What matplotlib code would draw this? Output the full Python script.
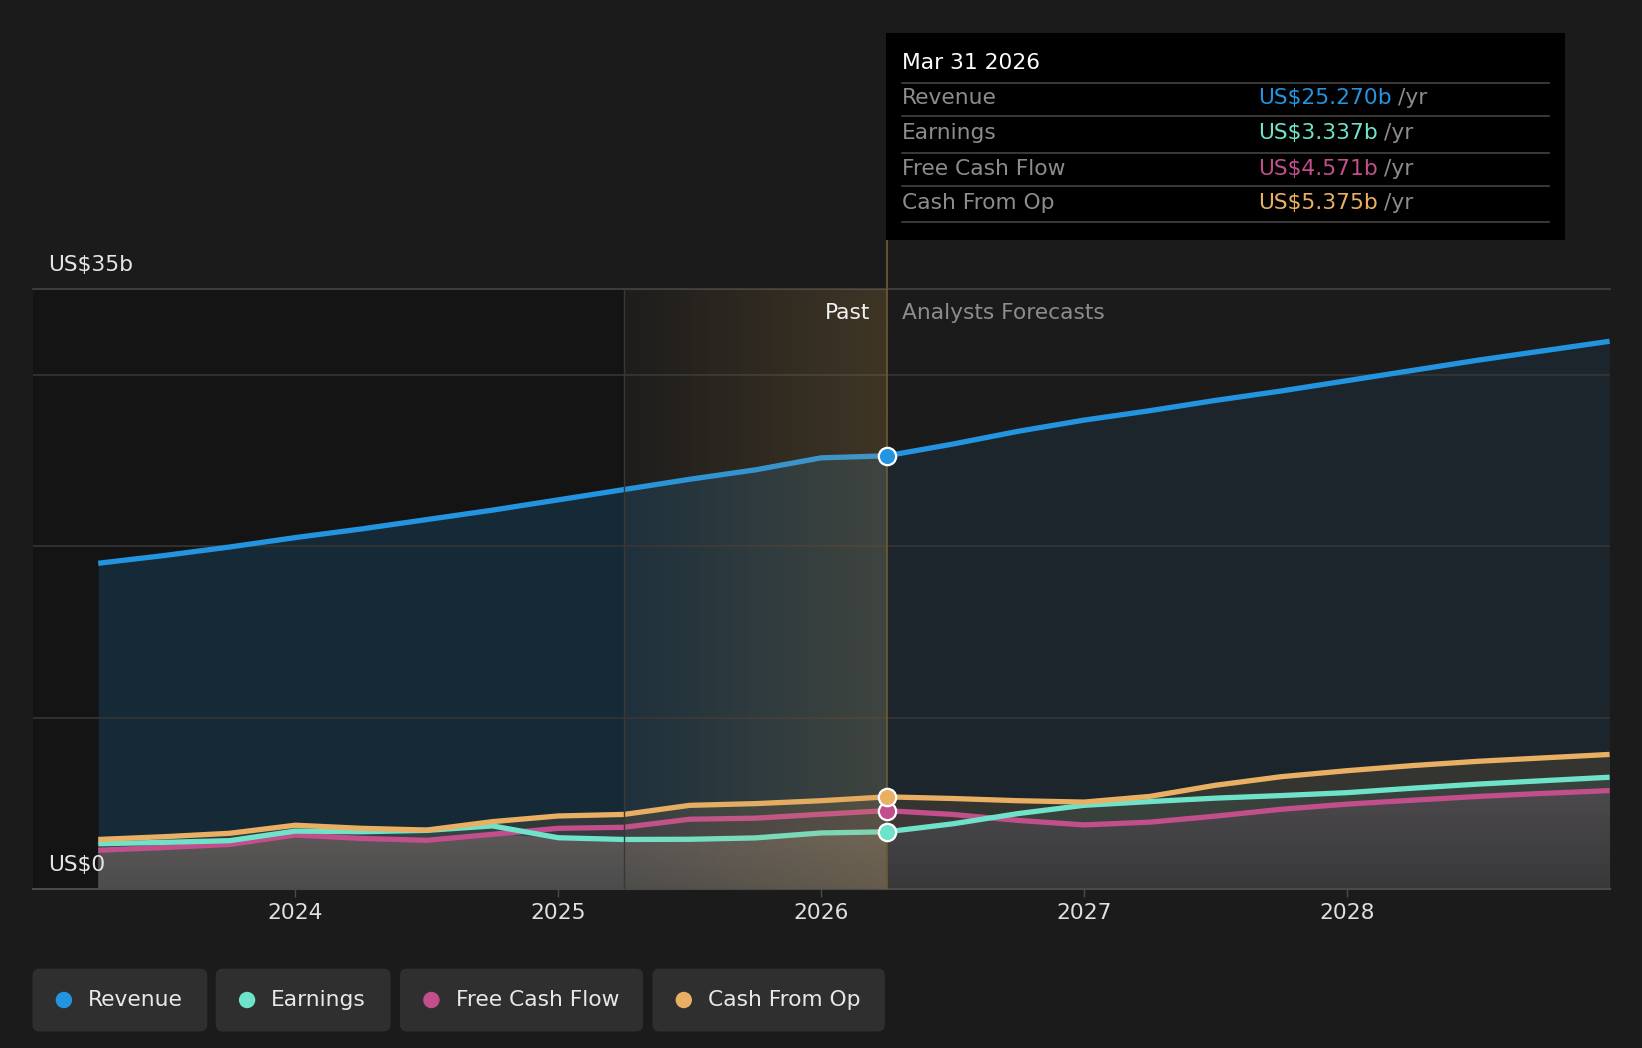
import numpy as np
import matplotlib.pyplot as plt
from matplotlib.patches import FancyBboxPatch, Rectangle, Circle

plt.rcParams['font.family'] = ['DejaVu Sans']

# quarterly points, decimal years (past up to Mar 2026, then analyst forecasts)
dates = [2023.25, 2023.5, 2023.75, 2024.0, 2024.25, 2024.5, 2024.75, 2025.0,
         2025.25, 2025.5, 2025.75, 2026.0, 2026.25,
         2026.5, 2026.75, 2027.0, 2027.25, 2027.5, 2027.75, 2028.0,
         2028.25, 2028.5, 2028.75, 2029.0]
revenue = [19.0, 19.45, 19.95, 20.5, 21.0, 21.55, 22.1, 22.7, 23.3, 23.9, 24.45, 25.15, 25.27,
           25.95, 26.7, 27.35, 27.9, 28.5, 29.05, 29.65, 30.25, 30.85, 31.4, 31.95]
earnings = [2.64, 2.72, 2.82, 3.38, 3.34, 3.42, 3.68, 2.99, 2.89, 2.9, 2.98, 3.27, 3.337,
            3.8, 4.4, 4.88, 5.1, 5.3, 5.45, 5.62, 5.88, 6.12, 6.32, 6.52]
fcf = [2.26, 2.42, 2.6, 3.15, 2.95, 2.84, 3.19, 3.54, 3.6, 4.07, 4.13, 4.36, 4.571,
       4.35, 4.0, 3.74, 3.9, 4.25, 4.65, 4.95, 5.18, 5.4, 5.58, 5.74]
cfo = [2.89, 3.05, 3.25, 3.72, 3.54, 3.44, 3.93, 4.26, 4.35, 4.88, 4.98, 5.15, 5.375,
       5.28, 5.15, 5.07, 5.4, 6.05, 6.55, 6.9, 7.2, 7.45, 7.65, 7.85]

names = ['Revenue', 'Earnings', 'Free Cash Flow', 'Cash From Op']
colors = ['#2394df', '#6fe3c9', '#c24f8b', '#e9b064']
year_ticks = [2024, 2025, 2026, 2027, 2028]
NOW = 2026.25
PAST_START = 2025.25
now_label = 'Mar 31 2026'

BG = '#1b1b1b'
FS = 15.7
W, H = 1642, 1048

x = np.array(dates)
i_now = dates.index(NOW)
series = [np.array(revenue), np.array(earnings), np.array(fcf), np.array(cfo)]

fig = plt.figure(figsize=(W / 100, H / 100), dpi=100, facecolor=BG)
ax_l, ax_r, ax_t, ax_b = 32.5, 1609.6, 289, 889
ax = fig.add_axes([ax_l / W, 1 - ax_b / H, (ax_r - ax_l) / W, (ax_b - ax_t) / H])
ax.set_facecolor(BG)
ax.set_axisbelow('line')

# darker "history" band and highlighted last year
ax.axvspan(2023.0, PAST_START, color='#141414', lw=0, zorder=0)

# revenue area
ax.fill_between(x[:i_now + 1], 0, series[0][:i_now + 1], color=colors[0], alpha=0.17, lw=0, zorder=1)
ax.fill_between(x[i_now:], 0, series[0][i_now:], color=colors[0], alpha=0.085, lw=0, zorder=1)

# small series areas
for s, c, a in [(series[3], colors[3], 0.12), (series[1], colors[1], 0.07), (series[2], colors[2], 0.07)]:
    ax.fill_between(x, 0, s, color=c, alpha=a, lw=0, zorder=1.2)

# grey gradient under the lowest of the small series
low = np.minimum.reduce([series[1], series[2], series[3]])
clip = ax.fill_between(x, 0, low, facecolor='none', edgecolor='none')
clip_path = clip.get_paths()[0]
for x0, x1, top, bot in [(2023.25, NOW, (0.40, 0.375, 0.37), (0.30, 0.30, 0.30)),
                         (NOW, 2029.0, (0.295, 0.285, 0.295), (0.22, 0.22, 0.23))]:
    t = np.linspace(0, 1, 64)[:, None]
    grad = np.zeros((64, 1, 4))
    for k in range(3):
        grad[:, 0, k] = bot[k] + (top[k] - bot[k]) * t[:, 0]
    grad[:, 0, 3] = 1.0
    im = ax.imshow(grad, extent=[x0, x1, 0, 5.5], origin='lower', aspect='auto', zorder=1.3,
                   interpolation='bilinear')
    im.set_clip_path(clip_path, transform=ax.transData)

# lines
for idx in [2, 1, 3, 0]:
    ax.plot(x, series[idx], color=colors[idx], lw=3.8, solid_capstyle='butt', zorder=3)

# past highlight overlay
n = 256
ov_grad = np.zeros((1, n, 4))
ov_grad[0, :, 0] = 0.78
ov_grad[0, :, 1] = 0.60
ov_grad[0, :, 2] = 0.30
ov_grad[0, :, 3] = np.linspace(0.02, 0.21, n)
ax.imshow(ov_grad, extent=[PAST_START, NOW, 0, 35], aspect='auto', zorder=4, interpolation='bilinear')
ax.axvline(PAST_START, color='#3b3832', lw=1, zorder=4.2)
ax.axvline(NOW, ymin=0, ymax=(ax_b - 240) / (ax_b - ax_t), color='#6a5836', lw=1.3,
           clip_on=False, zorder=4.5)

# markers at "now"
for s, c in zip(series, colors):
    ax.plot(NOW, s[i_now], 'o', ms=12.5, mfc=c, mec='white', mew=1.6, zorder=6)

ax.set_xlim(2023.0, 2029.0)
ax.set_ylim(0, 35)
ax.set_yticks([10, 20, 30])
ax.grid(axis='y', color='#353535', lw=1.2)
ax.axhline(35, color='#444444', lw=1.2, clip_on=False, zorder=1.5)
ax.tick_params(axis='y', left=False, labelleft=False)
ax.set_xticks(year_ticks)
ax.set_xticklabels([str(y) for y in year_ticks])
ax.tick_params(axis='x', colors='#4a4a4a', labelcolor='#e0e0e0', labelsize=FS, length=6, width=1, pad=4)
for side in ['top', 'left', 'right']:
    ax.spines[side].set_visible(False)
ax.spines['bottom'].set_color('#4a4a4a')
ax.spines['bottom'].set_linewidth(1.5)

ax.annotate('US$35b', xy=(0, 35), xycoords=('axes fraction', 'data'), xytext=(15.5, 24),
            textcoords='offset pixels', ha='left', va='center', color='#e6e6e6', fontsize=FS)
ax.annotate('US$0', xy=(0, 0), xycoords=('axes fraction', 'data'), xytext=(15.5, 24),
            textcoords='offset pixels', ha='left', va='center', color='#e6e6e6', fontsize=FS, zorder=7)
ax.annotate('Past', xy=(NOW, 35), xytext=(-17, -24), textcoords='offset pixels',
            ha='right', va='center', color='#f0f0f0', fontsize=FS, zorder=7)
ax.annotate('Analysts Forecasts', xy=(NOW, 35), xytext=(15.6, -24), textcoords='offset pixels',
            ha='left', va='center', color='#8c8c8c', fontsize=FS, zorder=7)

# overlay in pixel coordinates for tooltip and legend
ov = fig.add_axes([0, 0, 1, 1])
ov.set_zorder(10)
ov.patch.set_visible(False)
ov.set_xlim(0, W)
ov.set_ylim(H, 0)
ov.axis('off')

ov.add_patch(Rectangle((886, 32.5), 678.5, 207.5, fc='black', ec='none'))
ov.text(901.6, 62.8, now_label, color='white', fontsize=FS, ha='left', va='center')
for yy in [82.7, 116.2, 152.9, 186.4, 222]:
    ov.plot([901.6, 1548.8], [yy, yy], color='#444444', lw=1.2)
renderer = fig.canvas.get_renderer()
for yy, name, s, c in zip([98.4, 133, 168.6, 203.2], names, series, colors):
    ov.text(901.6, yy, name, color='#8c8c8c', fontsize=FS, ha='left', va='center')
    tv = ov.text(1257.7, yy, f'US${s[i_now]:.3f}b', color=c, fontsize=FS, ha='left', va='center')
    bb = tv.get_window_extent(renderer=renderer)
    ov.text(bb.x1 + 7, yy, '/yr', color='#8c8c8c', fontsize=FS, ha='left', va='center')

boxes = [(32.5, 207.3), (215.7, 390.6), (400.0, 643.0), (652.4, 884.9)]
for (b0, b1), name, c in zip(boxes, names, colors):
    ov.add_patch(FancyBboxPatch((b0, 968.6), b1 - b0, 62.9,
                                boxstyle='round,pad=0,rounding_size=7', fc='#2f2f2f', ec='none'))
    ov.add_patch(Circle((b0 + 31.4, 1000), 8.2, fc=c, ec='none'))
    ov.text(b0 + 55.5, 1000, name, color='#e8e8e8', fontsize=FS, ha='left', va='center')

fig.savefig('out.png', dpi=100, facecolor=BG)
